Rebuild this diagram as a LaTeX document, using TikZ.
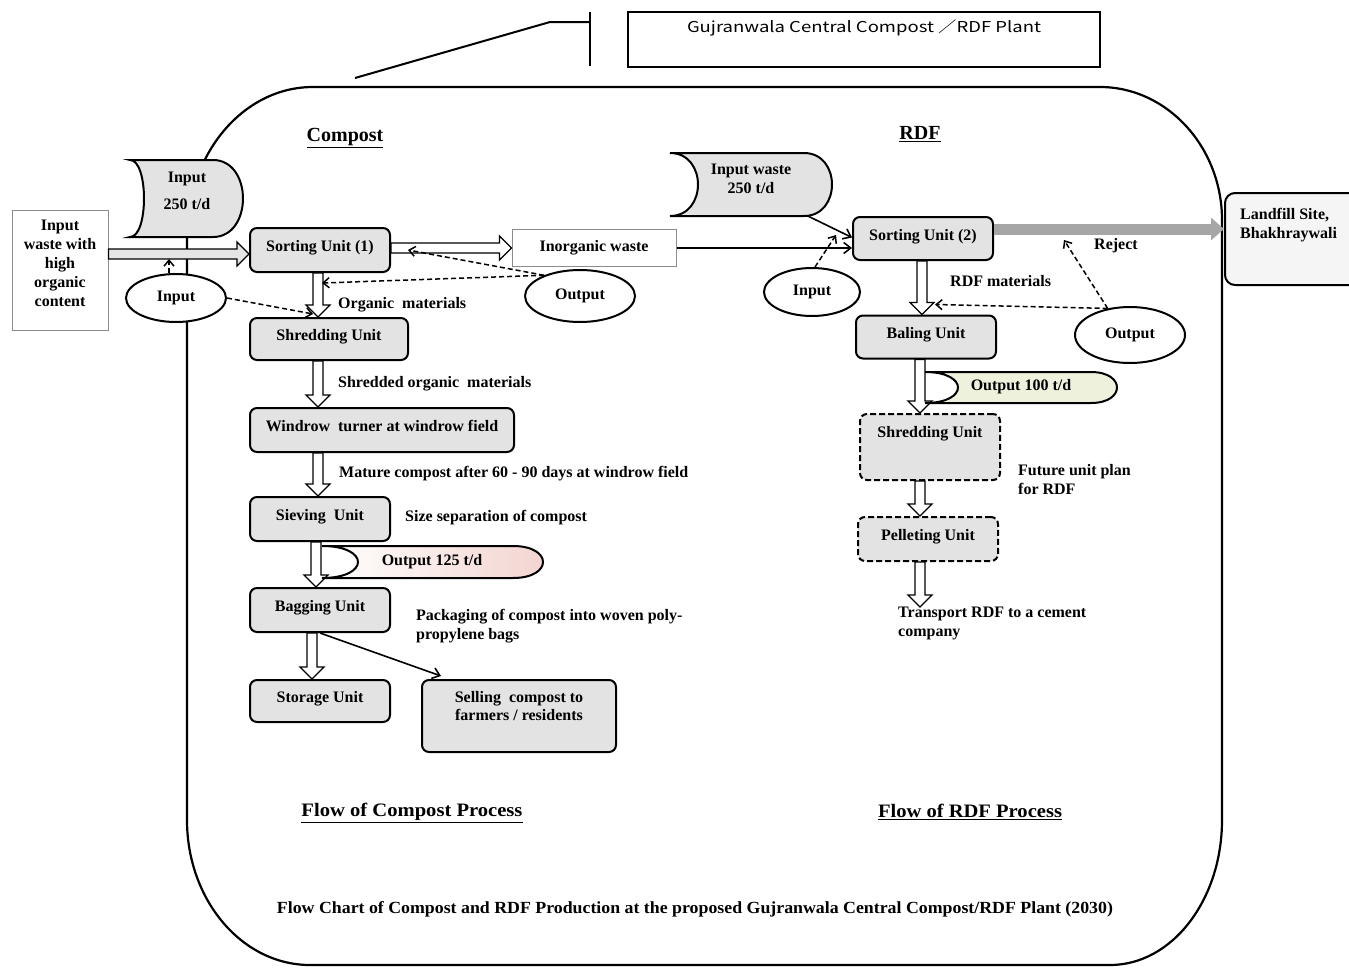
\documentclass[tikz,border=0pt]{standalone}
\usepackage{fontspec}
\setmainfont{Liberation Serif}
\newfontfamily\titlefont{Noto Sans CJK JP}
\usetikzlibrary{arrows.meta,calc,shapes.geometric}
\definecolor{unitfill}{HTML}{E3E3E3}
\definecolor{pinkc}{HTML}{F2D3CE}
\definecolor{greenc}{HTML}{EEF2DC}
\definecolor{boxgray}{HTML}{8C8C8C}
\newcommand\sdshp[7]{%
  \path[#7] (#1,#2) .. controls ({#1+1.333*#5},#2) and ({#1+1.333*#5},#4) .. (#1,#4)
    -- ({#3-#6},#4) .. controls ({#3-#6+1.333*#6},#4) and ({#3-#6+1.333*#6},#2) .. ({#3-#6},#2) -- cycle;}
\tikzset{
  unit/.style={draw, rounded corners=7pt, line width=2pt, fill=unitfill, inner sep=0pt,
    text height=11pt, text depth=8pt},
  unitd/.style={unit, dash pattern=on 6pt off 3pt},
  ell/.style={ellipse, draw, line width=2pt, fill=white, inner sep=0pt},
  plainbox/.style={draw=boxgray, line width=1pt, fill=white, inner sep=0pt},
  lbl/.style={inner sep=0pt, anchor=west},
  lblnw/.style={inner sep=0pt, anchor=north west, align=left},
  darr/.style={dash pattern=on 5pt off 3pt, line width=1.5pt, -{Straight Barb[length=6pt,width=10pt]}},
  sarr/.style={line width=1.6pt, -{Straight Barb[length=7pt,width=11pt]}},
  hollow/.style={draw, line width=1.3pt, fill=#1, line join=miter,
    to path={(\tikztostart) coordinate (hs) (\tikztotarget) coordinate (ht)
      ($(ht)!12pt!(hs)$) coordinate (hb)
      ($(hs)!5pt!90:(ht)$) -- ($(hb)!5pt!90:(ht)$) -- ($(hb)!12pt!90:(ht)$) -- (ht)
      -- ($(hb)!12pt!-90:(ht)$) -- ($(hb)!5pt!-90:(ht)$) -- ($(hs)!5pt!-90:(ht)$) -- cycle}},
  hollow/.default=white,
}
\begin{document}
\begin{tikzpicture}[x=1pt,y=-1pt, every node/.style={font=\fontsize{16}{19}\selectfont\bfseries}]
\useasboundingbox (0,0) rectangle (1349,969);

% outer frame
\draw[line width=2.2pt] (313,87) -- (1100,87) .. controls (1167,87) and (1222,147) .. (1222,220)
  -- (1222,820) .. controls (1222,900) and (1172,965) .. (1110,965) -- (310,965)
  .. controls (242,965) and (187,900) .. (187,820) -- (187,237)
  .. controls (187,154) and (243,87) .. (313,87) -- cycle;

% title callout
\node[draw, line width=2pt, minimum width=472pt, minimum height=55pt, inner sep=0pt] (ttl) at (864,39.5) {};
\node[font=\titlefont\fontsize{15}{18}\selectfont] (ttlt) at (864,28) {\resizebox{354pt}{\height}{Gujranwala Central Compost ／RDF Plant}};
\coordinate (c1) at (355,78);
\coordinate (c2) at (550,22);
\coordinate (c3) at (590,22);
\coordinate (c4) at (590,12);
\coordinate (c5) at (590,66);
\draw[line width=2pt] (c1) -- (c2) -- (c3);
\draw[line width=2pt] (c4) -- (c5);

% headings
\node (hcomp) at (345,138) {\fontsize{20}{22}\selectfont\underline{Compost}};
\node (hrdf) at (920,134) {\fontsize{20}{22}\selectfont\underline{RDF}};
\node (fcomp) at (412,813) {\resizebox{221pt}{\height}{\fontsize{19}{22}\selectfont\underline{Flow of Compost Process}}};
\node (frdf) at (970,812) {\resizebox{184pt}{\height}{\fontsize{19}{22}\selectfont\underline{Flow of RDF Process}}};
\node (cap) at (695,909) {\resizebox{836pt}{\height}{\fontsize{17}{20}\selectfont Flow Chart of Compost and RDF Production at the proposed Gujranwala Central Compost/RDF Plant (2030)}};

% left input box and input shape
\node[plainbox, minimum width=96pt, minimum height=120pt] (inw) at (60,270) {};
\node[align=center] (inwt) at (60,263) {Input\\waste with\\high\\organic\\content};
\sdshp{130}{160}{243}{237}{14}{30}{draw, line width=2pt, fill=unitfill}
\node[align=center] (inp1) at (187,191) {Input\\[8pt]250 t/d};

% compost units
\node[unit, minimum width=140pt, minimum height=44pt] (su1) at (320,250) {Sorting Unit (1)};
\node[unit, minimum width=158pt, minimum height=42pt] (shr1) at (329,339) {Shredding Unit};
\node[unit, minimum width=264pt, minimum height=44pt] (wind) at (382,430) {Windrow\ \ turner at windrow field};
\node[unit, minimum width=140pt, minimum height=44pt] (siev) at (320,519) {Sieving\ \ Unit};
\node[unit, minimum width=140pt, minimum height=44pt] (bag) at (320,610) {Bagging Unit};
\node[unit, minimum width=140pt, minimum height=42pt] (stor) at (320,701) {Storage Unit};
\node[unit, minimum width=194pt, minimum height=72pt] (sell) at (519,716) {};
\node[align=center] (sellt) at (519,706) {Selling\ \ compost to\\[-1pt]farmers / residents};

\node[plainbox, minimum width=164pt, minimum height=37pt] (inorg) at (594,248) {Inorganic waste};
\node[ell, minimum width=100pt, minimum height=48pt] (in1) at (176,298) {Input};
\node[ell, minimum width=110pt, minimum height=52pt] (out1) at (580,296) {Output};

% RDF side
\sdshp{670}{153}{832}{216}{28}{28}{draw, line width=2pt, fill=unitfill}
\node[inner sep=0pt, minimum width=162pt, minimum height=63pt] (rin) at (751,184.5) {};
\node[align=center] (rint) at (751,178.5) {Input waste\\250 t/d};
\node[unit, minimum width=140pt, minimum height=43pt] (su2) at (923,238.5) {Sorting Unit (2)};
\node[unit, minimum width=140pt, minimum height=43pt] (bal) at (926,337) {Baling Unit};
\node[unitd, minimum width=140pt, minimum height=66pt, text depth=30pt] (shr2) at (930,447) {Shredding Unit};
\node[unitd, minimum width=140pt, minimum height=44pt] (pel) at (928,539) {Pelleting Unit};
\node[ell, minimum width=96pt, minimum height=48pt] (in2) at (812,292) {Input};
\node[ell, minimum width=110pt, minimum height=56pt] (out2) at (1130,335) {Output};
\node[draw, line width=2pt, rounded corners=10pt, fill=black!4, minimum width=140pt, minimum height=92pt, inner sep=0pt] (land) at (1295,239) {};
\node[lblnw] (landt) at (1240,208) {Landfill Site,\\Bhakhraywali};

% labels
\node[lbl] (lorg) at (338,305) {Organic\ \ materials};
\node[lbl] (lshr) at (338,384) {Shredded organic\ \ materials};
\node[lbl] (lmat) at (339,474) {Mature compost after 60 - 90 days at windrow field};
\node[lbl] (lsize) at (405,518) {Size separation of compost};
\node[lblnw] (lpack) at (416,609) {Packaging of compost into woven poly-\\propylene bags};
\node[lbl] (lrdfm) at (950,281) {RDF materials};
\node[lbl] (lrej) at (1094,246) {Reject};
\node[lblnw] (lfut) at (1018,464) {Future unit plan\\for RDF};
\node[lblnw] (ltr) at (898,607) {Transport RDF to a cement\\company};

% coordinates
\coordinate (ya) at (0,254);
\coordinate (yr) at (0,229);
\coordinate (j1) at (169,259);
\coordinate (j2) at (836,235);
\coordinate (j3) at (1064,240);

% hollow arrows (compost)
\draw[hollow=black!10] (inw.east |- ya) to (su1.west |- ya);
\draw[hollow] (su1.east |- inorg.west) to (inorg.west);
\draw[hollow] ([xshift=-2pt]su1.south) to ([xshift=-2pt]su1.south |- shr1.north);
\draw[hollow] ([xshift=-2pt]su1.south |- shr1.south) to ([xshift=-2pt]su1.south |- wind.north);
\draw[hollow] ([xshift=-2pt]su1.south |- wind.south) to ([xshift=-2pt]su1.south |- siev.north);
\draw[hollow] ([xshift=-4pt]siev.south) to ([xshift=-4pt]siev.south |- bag.north);
\draw[hollow] ([xshift=-8pt]bag.south) to ([xshift=-8pt]bag.south |- stor.north);
\draw[sarr] (bag.south) -- ($(sell.north west)+(20,-3)$);

% hollow arrows (RDF)
\draw[hollow] ([xshift=-1pt]su2.south) to ([xshift=-1pt]su2.south |- bal.north);
\draw[hollow] ([xshift=-6pt]bal.south) to ([xshift=-6pt]bal.south |- shr2.north);
\draw[hollow] ([xshift=-10pt]shr2.south) to ([xshift=-10pt]shr2.south |- pel.north);
\draw[hollow] ([xshift=-8pt]pel.south) to ([xshift=-8pt]pel.south |- ltr.north);

% reject arrow
\draw[line width=11pt, draw=black!35, -{Triangle[length=13pt,width=22pt]}] (su2.east |- yr) -- (land.west |- yr);

% thin connectors into sorting unit (2)
\draw[sarr] (inorg.east) -- (inorg.east -| su2.west);
\draw[sarr] ($(rin.south east)+(-24,0)$) -- ($(su2.west)+(0,-1)$);

% output shapes
\sdshp{322}{546}{543}{578}{36}{30}{draw, line width=2pt, left color=white, right color=pinkc}
\node (o125) at (432,562) {Output 125 t/d};
\sdshp{925}{372}{1117}{403}{33}{26}{draw, line width=2pt, fill=greenc}
\node (o100) at (1021,387) {Output 100 t/d};

% dashed connectors
\draw[darr] ([xshift=-7pt]in1.north) -- (j1);
\draw[darr] (in1.east) -- ($(shr1.north)+(-16,-3)$);
\draw[darr] (out1.150) -- ($(su1.east)+(17,0)$);
\draw[darr] (out1.150) -- ($(su1.south)+(2,10)$);
\draw[darr] ([xshift=3pt]in2.north) -- (j2);
\draw[darr] (out2.130) -- (j3);
\draw[darr] (out2.130) -- ($(bal.north)+(9,-10)$);
\end{tikzpicture}
\end{document}
